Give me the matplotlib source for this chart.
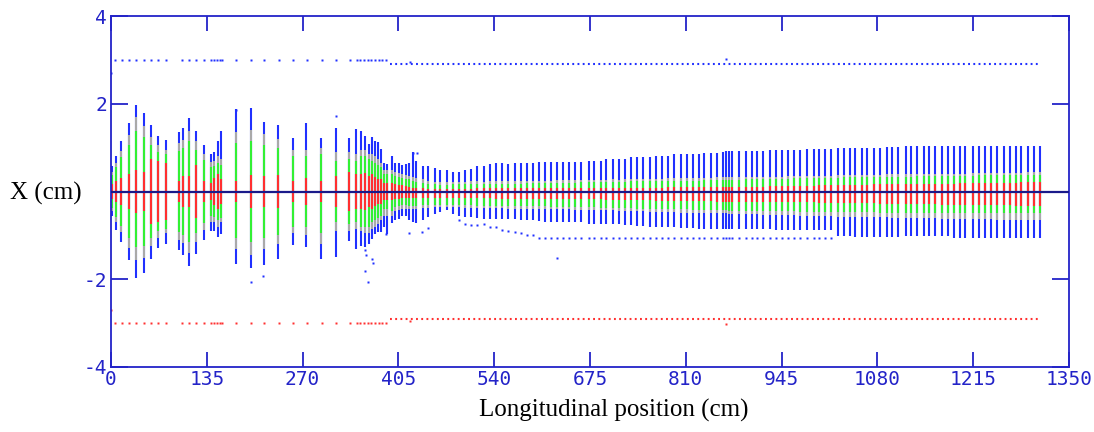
import numpy as np
import matplotlib
matplotlib.use("Agg")
import matplotlib.pyplot as plt

nan = np.nan

# longitudinal position of each sampled element (cm)
z = [1, 6.6, 14.5, 24.9, 35.2, 46.1, 56.4, 66.7, 77.1, 95.4, 101.0, 109.9, 120.2, 130.6, 140.5, 144.7,
     151.2, 155.5, 176.1, 196.9, 215.6, 235.8, 256.9, 275.2, 295.9, 316.6, 335.4, 345.2, 352.3, 358.6,
     363.6, 368.2, 372.0, 376.3, 379.8, 384.7, 388.9, 395.6, 400.2, 405.4, 410.5, 415.7, 420.6, 425.6,
     430.5, 439.0,
     447, 456, 464, 474, 482, 491, 499, 507, 516, 526, 534, 543, 551, 559, 569, 578, 586, 594, 603, 612,
     620, 629, 637, 646, 654, 663,
     673, 681, 690, 698, 708, 716, 724, 733, 741, 749, 760, 768, 777, 785, 793, 803, 812, 820, 828, 836,
     845, 854, 863, 867, 871, 875, 885,
     895, 903, 911, 919, 929, 937, 946, 954, 963, 971, 981, 990, 998, 1006, 1015, 1025, 1033, 1041, 1049,
     1058, 1066, 1075, 1084, 1093, 1101, 1109,
     1120, 1128, 1136, 1145, 1153, 1161, 1171, 1179, 1188, 1196, 1204, 1215, 1223, 1232, 1240, 1248,
     1258, 1267, 1275, 1283, 1292, 1300, 1309]

# full beam extent (blue particles), cm
blue_hi = [0.57, 0.82, 1.14, 1.56, 1.98, 1.80, 1.52, 1.27, 1.17, 1.35, 1.45, 1.67, 1.39, 1.07, 0.86, 0.89,
           1.16, 1.39, 1.88, 1.90, 1.59, 1.52, 1.21, 1.55, 1.21, 1.45, 1.23, 1.42, 1.39, 1.27,
           1.08, 1.25, 1.16, 1.12, 0.97, 0.65, 0.62, 0.80, 0.66, 0.64, 0.60, 0.62, 0.66, 0.89,
           0.70, 0.58,
           0.59, 0.54, 0.49, 0.48, 0.44, 0.44, 0.48, 0.52, 0.59, 0.59, 0.63, 0.65, 0.65, 0.63, 0.65, 0.65,
           0.65, 0.65, 0.67, 0.67, 0.67, 0.67, 0.67, 0.67, 0.67, 0.67,
           0.70, 0.70, 0.70, 0.74, 0.74, 0.74, 0.74, 0.78, 0.78, 0.78, 0.78, 0.82, 0.82, 0.82, 0.86, 0.86,
           0.86, 0.86, 0.86, 0.87, 0.87, 0.87, 0.89, 0.92, 0.92, 0.92, 0.92,
           0.93, 0.93, 0.93, 0.93, 0.95, 0.95, 0.95, 0.95, 0.95, 0.95, 0.97, 0.97, 0.97, 0.97, 0.97, 0.99,
           0.99, 0.99, 0.99, 1.00, 1.00, 1.00, 1.00, 1.01, 1.01, 1.01,
           1.03, 1.03, 1.03, 1.03, 1.03, 1.03, 1.03, 1.03, 1.03, 1.03, 1.03, 1.04, 1.04, 1.04, 1.04, 1.04,
           1.04, 1.04, 1.04, 1.04, 1.04, 1.04, 1.04]
blue_lo = [-0.55, -0.87, -1.15, -1.57, -1.98, -1.86, -1.53, -1.29, -1.19, -1.34, -1.45, -1.70, -1.42, -1.11,
           -0.89, -0.89, -1.04, -0.96, -1.66, -1.75, -1.67, -1.53, -1.21, -1.27, -1.53, -1.49, -1.13, -1.30,
           -1.25, -1.27, -1.20, -1.08, -0.96, -0.92, -0.92, -0.80, -0.96, -0.72, -0.66, -0.62, -0.55, -0.55,
           -0.65, -0.70, -0.72, -0.65,
           -0.57, -0.51, -0.47, -0.43, -0.51, -0.55, -0.57, -0.57, -0.60, -0.62, -0.62, -0.62, -0.63, -0.63,
           -0.63, -0.64, -0.65, -0.66, -0.68, -0.70, -0.70, -0.70, -0.70, -0.70, -0.70, -0.70,
           -0.73, -0.73, -0.73, -0.75, -0.75, -0.75, -0.77, -0.77, -0.78, -0.78, -0.80, -0.80, -0.80, -0.82,
           -0.82, -0.84, -0.84, -0.84, -0.85, -0.85, -0.85, -0.85, -0.86, -0.86, -0.86, -0.86, -0.86,
           -0.85, -0.85, -0.86, -0.86, -0.86, -0.87, -0.87, -0.87, -0.87, -0.88, -0.88, -0.88, -0.88, -0.88,
           -0.88, -1.02, -1.02, -1.02, -1.03, -1.03, -1.03, -1.03, -1.04, -1.04, -1.04, -1.04,
           -1.02, -1.02, -1.02, -1.02, -1.02, -1.02, -1.02, -1.02, -1.05, -1.05, -1.05, -1.05, -1.05, -1.05,
           -1.05, -1.07, -1.07, -1.07, -1.07, -1.07, -1.07, -1.07, -1.07]
# stray blue particles just below the core
halo_lo = [nan] * 46 + [
    -0.83, nan, nan, nan, nan, -0.66, -0.73, -0.77, -0.77, -0.75, -0.81, -0.81, -0.87, -0.89, -0.93, -0.95,
    -1.00, -1.00, -1.05, -1.05, -1.05, -1.05, -1.05, -1.05, -1.05, -1.05,
    -1.06, -1.06, -1.06, -1.06, -1.06, -1.06, -1.06, -1.06, -1.06, -1.06, -1.06, -1.06, -1.06, -1.06,
    -1.06, -1.06, -1.06, -1.06, -1.06, -1.06, -1.06, -1.06, -1.06, -1.06, -1.06, -1.06, -1.06,
    -1.06, -1.06, -1.06, -1.06, -1.06, -1.06, -1.06, -1.06, -1.06, -1.06, -1.06, -1.06, -1.06, -1.06,
    -1.06, nan, nan, nan, nan, nan, nan, nan, nan, nan, nan, nan] + [nan] * 23

# grey / green / red particle groups
grey_hi = [0.45, 0.65, 0.92, 1.28, 1.69, 1.50, 1.25, 1.05, 0.95, 1.10, 1.18, 1.38, 1.15, 0.85, 0.68, 0.70,
           0.80, 0.75, 1.35, 1.40, 1.30, 1.20, 0.95, 0.95, 1.00, 0.90, 0.90, 0.85, 0.95, 0.95,
           0.85, 0.85, 0.80, 0.75, 0.65, 0.50, 0.50, 0.50, 0.45, 0.42, 0.40, 0.38, 0.35, 0.32,
           0.30, 0.28,
           0.23, 0.22, 0.22, 0.21, 0.22, 0.22, 0.22, 0.23, 0.23, 0.22, 0.23, 0.23, 0.24, 0.23, 0.24, 0.24,
           0.24, 0.25, 0.25, 0.25, 0.25, 0.26, 0.26, 0.26, 0.26, 0.26,
           0.27, 0.27, 0.27, 0.27, 0.28, 0.27, 0.28, 0.28, 0.28, 0.29, 0.29, 0.29, 0.29, 0.30, 0.30, 0.30,
           0.30, 0.31, 0.31, 0.31, 0.31, 0.32, 0.32, 0.32, 0.32, 0.32, 0.33,
           0.33, 0.33, 0.33, 0.34, 0.34, 0.34, 0.34, 0.35, 0.35, 0.35, 0.35, 0.36, 0.36, 0.36, 0.36, 0.37,
           0.37, 0.37, 0.37, 0.38, 0.38, 0.38, 0.38, 0.39, 0.39, 0.39,
           0.39, 0.40, 0.40, 0.40, 0.40, 0.40, 0.41, 0.41, 0.41, 0.41, 0.41, 0.42, 0.42, 0.42, 0.42, 0.42,
           0.43, 0.43, 0.43, 0.43, 0.44, 0.44, 0.44]
grey_lo = [-0.45, -0.70, -0.92, -1.28, -1.57, -1.52, -1.25, -1.05, -0.95, -1.10, -1.18, -1.40, -1.15, -0.88,
           -0.70, -0.70, -0.80, -0.70, -1.30, -1.45, -1.30, -1.20, -0.95, -1.00, -1.20, -0.90, -0.90, -0.85,
           -0.90, -0.95, -0.95, -0.85, -0.80, -0.75, -0.65, -0.55, -0.55, -0.55, -0.45, -0.42, -0.40, -0.40,
           -0.40, -0.40, -0.40, -0.38,
           -0.37, -0.36, -0.36, -0.35, -0.36, -0.36, -0.37, -0.37, -0.37, -0.38, -0.38, -0.38, -0.38, -0.39,
           -0.39, -0.39, -0.40, -0.40, -0.40, -0.40, -0.41, -0.41, -0.41, -0.41, -0.42, -0.42,
           -0.42, -0.42, -0.43, -0.43, -0.43, -0.44, -0.44, -0.44, -0.45, -0.45, -0.46, -0.46, -0.46, -0.47,
           -0.47, -0.48, -0.48, -0.48, -0.49, -0.49, -0.50, -0.50, -0.50, -0.50, -0.51, -0.51, -0.51,
           -0.52, -0.52, -0.52, -0.53, -0.53, -0.53, -0.54, -0.54, -0.54, -0.55, -0.55, -0.55, -0.56, -0.56,
           -0.56, -0.57, -0.57, -0.57, -0.58, -0.58, -0.58, -0.59, -0.59, -0.59, -0.60, -0.60,
           -0.60, -0.60, -0.61, -0.61, -0.61, -0.61, -0.62, -0.62, -0.62, -0.62, -0.63, -0.63, -0.63, -0.63,
           -0.63, -0.64, -0.64, -0.64, -0.64, -0.64, -0.65, -0.65, -0.65]
green_hi = [0.38, 0.55, 0.78, 1.05, 1.39, 1.25, 1.05, 0.90, 0.85, 0.92, 1.00, 1.15, 0.95, 0.72, 0.55, 0.58,
            0.65, 0.60, 1.10, 1.15, 1.05, 1.00, 0.80, 0.80, 0.85, 0.70, 0.75, 0.70, 0.80, 0.80,
            0.75, 0.70, 0.65, 0.60, 0.55, 0.40, 0.40, 0.40, 0.35, 0.32, 0.30, 0.28, 0.28, 0.25,
            0.22, 0.20,
            0.16, 0.16, 0.15, 0.15, 0.16, 0.16, 0.16, 0.16, 0.17, 0.17, 0.17, 0.17, 0.18, 0.18, 0.18, 0.18,
            0.19, 0.19, 0.19, 0.19, 0.20, 0.20, 0.20, 0.20, 0.20, 0.21,
            0.21, 0.21, 0.21, 0.22, 0.22, 0.22, 0.22, 0.23, 0.23, 0.23, 0.23, 0.24, 0.24, 0.24, 0.24, 0.25,
            0.25, 0.25, 0.25, 0.26, 0.26, 0.26, 0.26, 0.27, 0.27, 0.27, 0.27,
            0.28, 0.28, 0.28, 0.28, 0.29, 0.29, 0.29, 0.29, 0.30, 0.30, 0.30, 0.30, 0.31, 0.31, 0.31, 0.31,
            0.32, 0.32, 0.32, 0.32, 0.33, 0.33, 0.33, 0.33, 0.34, 0.34,
            0.34, 0.34, 0.35, 0.35, 0.35, 0.35, 0.35, 0.36, 0.36, 0.36, 0.36, 0.36, 0.37, 0.37, 0.37, 0.37,
            0.37, 0.38, 0.38, 0.38, 0.38, 0.38, 0.38]
green_lo = [-0.38, -0.58, -0.78, -1.05, -1.27, -1.25, -1.05, -0.90, -0.85, -0.92, -1.00, -1.15, -0.95, -0.72,
            -0.55, -0.58, -0.65, -0.60, -1.05, -1.15, -1.05, -1.00, -0.80, -0.80, -0.95, -0.70, -0.75, -0.70,
            -0.80, -0.80, -0.80, -0.70, -0.65, -0.60, -0.55, -0.40, -0.40, -0.45, -0.35, -0.32, -0.30, -0.30,
            -0.32, -0.32, -0.32, -0.30,
            -0.31, -0.30, -0.30, -0.30, -0.30, -0.31, -0.31, -0.31, -0.32, -0.32, -0.32, -0.32, -0.33, -0.33,
            -0.33, -0.33, -0.34, -0.34, -0.34, -0.34, -0.35, -0.35, -0.35, -0.35, -0.36, -0.36,
            -0.36, -0.36, -0.37, -0.37, -0.37, -0.38, -0.38, -0.38, -0.39, -0.39, -0.39, -0.40, -0.40, -0.40,
            -0.41, -0.41, -0.41, -0.42, -0.42, -0.42, -0.43, -0.43, -0.43, -0.43, -0.44, -0.44, -0.44,
            -0.44, -0.44, -0.44, -0.45, -0.45, -0.45, -0.45, -0.45, -0.45, -0.46, -0.46, -0.46, -0.46, -0.46,
            -0.46, -0.47, -0.47, -0.47, -0.47, -0.47, -0.47, -0.47, -0.48, -0.48, -0.48, -0.48,
            -0.48, -0.48, -0.48, -0.48, -0.48, -0.48, -0.48, -0.48, -0.49, -0.49, -0.49, -0.49, -0.49, -0.49,
            -0.49, -0.49, -0.50, -0.50, -0.50, -0.50, -0.50, -0.50, -0.50]
red_hi = [0.18, 0.25, 0.30, 0.40, 0.50, 0.45, 0.75, 0.70, 0.65, 0.25, 0.35, 0.35, 0.60, 0.25, 0.20, 0.30,
          0.40, 0.28, 0.25, 0.38, 0.35, 0.38, 0.25, 0.30, 0.25, 0.35, 0.45, 0.40, 0.40, 0.42,
          0.35, 0.40, 0.32, 0.28, 0.28, 0.20, 0.20, 0.20, 0.18, 0.15, 0.14, 0.12, 0.10, 0.09,
          0.08, 0.08,
          0.06, 0.06, 0.06, 0.06, 0.06, 0.06, 0.06, 0.06, 0.07, 0.07, 0.07, 0.07, 0.07, 0.07, 0.07, 0.07,
          0.07, 0.08, 0.08, 0.08, 0.08, 0.08, 0.08, 0.08, 0.08, 0.08,
          0.08, 0.08, 0.08, 0.08, 0.09, 0.09, 0.09, 0.09, 0.09, 0.09, 0.09, 0.09, 0.09, 0.10, 0.10, 0.10,
          0.10, 0.10, 0.10, 0.10, 0.10, 0.10, 0.10, 0.10, 0.10, 0.10, 0.11,
          0.11, 0.11, 0.11, 0.11, 0.12, 0.12, 0.12, 0.12, 0.13, 0.13, 0.13, 0.13, 0.14, 0.14, 0.14, 0.14,
          0.15, 0.15, 0.15, 0.15, 0.15, 0.16, 0.16, 0.16, 0.16, 0.16,
          0.17, 0.17, 0.17, 0.17, 0.18, 0.18, 0.18, 0.18, 0.18, 0.19, 0.19, 0.19, 0.19, 0.19, 0.20, 0.20,
          0.20, 0.20, 0.20, 0.21, 0.21, 0.21, 0.21]
red_lo = [-0.18, -0.25, -0.30, -0.40, -0.50, -0.45, -0.75, -0.70, -0.65, -0.25, -0.35, -0.35, -0.60, -0.25,
          -0.20, -0.30, -0.40, -0.28, -0.25, -0.38, -0.35, -0.38, -0.25, -0.30, -0.25, -0.35, -0.45, -0.40,
          -0.40, -0.42, -0.35, -0.40, -0.32, -0.28, -0.28, -0.20, -0.20, -0.20, -0.18, -0.16, -0.15, -0.15,
          -0.15, -0.15, -0.15, -0.14,
          -0.14, -0.14, -0.14, -0.14, -0.14, -0.15, -0.15, -0.15, -0.15, -0.15, -0.15, -0.16, -0.16, -0.16,
          -0.16, -0.16, -0.16, -0.17, -0.17, -0.17, -0.17, -0.17, -0.17, -0.17, -0.18, -0.18,
          -0.18, -0.18, -0.18, -0.19, -0.19, -0.19, -0.19, -0.20, -0.20, -0.20, -0.20, -0.21, -0.21, -0.21,
          -0.21, -0.21, -0.22, -0.22, -0.22, -0.22, -0.22, -0.23, -0.23, -0.23, -0.23, -0.23, -0.23,
          -0.23, -0.23, -0.24, -0.24, -0.24, -0.24, -0.24, -0.25, -0.25, -0.25, -0.25, -0.25, -0.26, -0.26,
          -0.26, -0.26, -0.26, -0.27, -0.27, -0.27, -0.27, -0.27, -0.28, -0.28, -0.28, -0.28,
          -0.28, -0.29, -0.29, -0.29, -0.29, -0.29, -0.30, -0.30, -0.30, -0.30, -0.30, -0.30, -0.31, -0.31,
          -0.31, -0.31, -0.31, -0.31, -0.32, -0.32, -0.32, -0.32, -0.32]

# isolated blue particles
stray_z = [175.7, 196.9, 214.6, 316.6, 357.9, 358.9, 357.9, 368.2, 368.8, 362.6, 387.1, 419.9, 438.7,
           426.0, 430.8, 629]
stray_x = [1.86, -2.06, -1.93, 1.71, -1.34, -1.45, -1.81, -1.53, -1.64, -2.06, -0.96, -0.95, -0.92,
           0.88, 0.88, -1.52]

# aperture markers: discrete elements before ~390 cm, continuous pipe after
ap_z = [0, 5.2, 15.5, 24.9, 35.2, 46.1, 56.4, 66.7, 77.1, 100.5, 109.9, 120.2, 130.6, 140.5, 144.7, 148.9,
        153.6, 156.4, 176.1, 196.9, 216.0, 236.7, 256.9, 276.6, 296.9, 316.6, 336.4, 346.2, 351.3, 356.5,
        361.7, 366.8, 372.0, 377.2, 382.3, 387.5]
ap_r = [2.71] + [3.0] * 35
pipe_z = [393, 1309]
pipe_r = 2.9
pipe_bump_z = [421, 867]
pipe_bump_r = [2.96, 3.01]

xticks = [0, 135, 270, 405, 540, 675, 810, 945, 1080, 1215, 1350]
yticks = [-4, -2, 2, 4]

BLUE = "#2030ff"
GREY = "#a9a9a9"
GREEN = "#33f033"
RED = "#ff3030"
AXC = "#2323c8"

fig = plt.figure(figsize=(10.94, 4.32), dpi=100)
ax = fig.add_axes([111 / 1094, 1 - 367 / 432, 958 / 1094, 351 / 432])

lw = 1.5
ax.vlines(z, blue_lo, blue_hi, color=BLUE, lw=lw)
ax.vlines(z, grey_lo, grey_hi, color=GREY, lw=lw)
ax.vlines(z, green_lo, green_hi, color=GREEN, lw=lw)
ax.vlines(z, red_lo, red_hi, color=RED, lw=lw)
ax.plot(z, halo_lo, "s", ms=1.8, color=BLUE, mec="none")
ax.plot(stray_z, stray_x, "s", ms=2.0, color=BLUE, mec="none")

# apertures (top blue, bottom red)
ax.plot(ap_z, ap_r, "s", ms=1.8, color=BLUE, mec="none")
ax.plot(ap_z, [-r for r in ap_r], "s", ms=1.8, color=RED, mec="none")
ax.plot(pipe_z, [pipe_r, pipe_r], color=BLUE, lw=1.5, ls=(0, (0.9, 1.6)))
ax.plot(pipe_z, [-pipe_r, -pipe_r], color=RED, lw=1.5, ls=(0, (0.9, 1.6)))
ax.plot(pipe_bump_z, pipe_bump_r, "s", ms=1.8, color=BLUE, mec="none")
ax.plot(pipe_bump_z, [-r for r in pipe_bump_r], "s", ms=1.8, color=RED, mec="none")

ax.axhline(0, color="#1a1a8a", lw=1.6, zorder=5)

ax.set_xlim(0, 1350)
ax.set_ylim(-4, 4)
ax.set_xticks(xticks)
ax.set_xticklabels([str(t) for t in xticks])
ax.set_yticks(yticks)
ax.set_yticklabels([str(t) for t in yticks])
for s in ax.spines.values():
    s.set_color(AXC)
    s.set_linewidth(1.3)
ax.tick_params(axis="both", direction="in", colors=AXC, width=1.3, top=True, right=True,
               labelsize=14)
ax.tick_params(axis="x", length=11, pad=2)
ax.tick_params(axis="y", length=12, pad=3)
for lab in ax.get_xticklabels() + ax.get_yticklabels():
    lab.set_family("DejaVu Sans Mono")

fig.text(10 / 1094, 1 - 193 / 432, "X (cm)", family="Liberation Serif", fontsize=18,
         ha="left", va="center")
fig.text(614 / 1094, 1 - 410 / 432, "Longitudinal position (cm)", family="Liberation Serif",
         fontsize=18, ha="center", va="center")

fig.savefig("out.png", dpi=100)
